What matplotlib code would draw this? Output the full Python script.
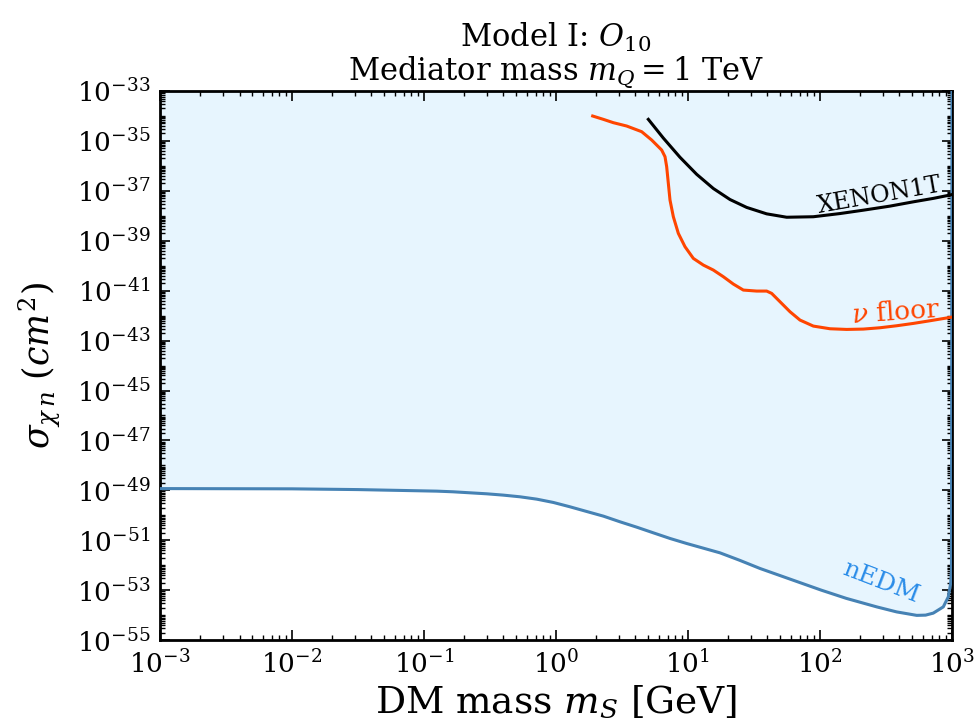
import numpy as np
import matplotlib
matplotlib.use("Agg")
import matplotlib.pyplot as plt
from matplotlib.ticker import LogLocator, NullFormatter

plt.rcParams['font.family'] = ['DejaVu Serif']
plt.rcParams['mathtext.fontset'] = 'dejavuserif'

# values, stored as log10 (mass in GeV, cross section in cm^2)

# nEDM bound (lower edge of the shaded region)
nedm_log_m = [-3.0, -2.0, -1.5, -1.030, -0.904, -0.778, -0.652, -0.525, -0.399, -0.273,
              -0.146, -0.020, 0.106, 0.232, 0.359, 0.485, 0.611, 0.737, 0.864, 0.990,
              1.116, 1.242, 1.39, 1.545, 1.78, 2.01, 2.2, 2.43, 2.58, 2.733, 2.80,
              2.858, 2.934, 2.972, 2.990, 2.996, 3.0]
nedm_log_s = [-48.93, -48.94, -48.97, -49.019, -49.032, -49.059, -49.099, -49.139, -49.192,
              -49.259, -49.353, -49.486, -49.660, -49.847, -50.034, -50.261, -50.475,
              -50.702, -50.929, -51.130, -51.317, -51.504, -51.80, -52.13, -52.57, -53.0,
              -53.33, -53.67, -53.87, -54.01, -54.0, -53.92, -53.67, -53.27, -52.73,
              -52.2, -33.0]

# XENON1T limit
xenon_log_m = [0.6995, 0.8131, 0.9394, 1.0657, 1.1919, 1.3182, 1.4444, 1.5960, 1.7475,
               1.9495, 2.1515, 2.3283, 2.5303, 2.7071, 2.8586, 2.9848, 3.0]
xenon_log_s = [-34.136, -34.886, -35.656, -36.338, -36.906, -37.348, -37.664, -37.922,
               -38.058, -38.038, -37.910, -37.775, -37.612, -37.440, -37.302, -37.168,
               -37.15]

# neutrino floor
nu_log_m = [0.2778, 0.3586, 0.4343, 0.5354, 0.6490, 0.7248, 0.8005, 0.8258, 0.8384,
            0.8510, 0.8636, 0.8889, 0.9268, 0.9773, 1.0404, 1.1162, 1.1919, 1.2677,
            1.3434, 1.4192, 1.5202, 1.5960, 1.6338, 1.6970, 1.7727, 1.8485, 1.9495,
            2.0758, 2.2020, 2.3283, 2.4545, 2.5808, 2.7071, 2.8333, 2.9848, 3.0]
nu_log_s = [-34.002, -34.136, -34.269, -34.403, -34.630, -34.964, -35.365, -35.632,
            -36.033, -36.701, -37.369, -38.037, -38.705, -39.239, -39.707, -39.974,
            -40.174, -40.441, -40.735, -40.976, -41.016, -41.016, -41.109, -41.443,
            -41.844, -42.178, -42.419, -42.526, -42.553, -42.539, -42.486, -42.406,
            -42.312, -42.205, -42.072, -42.06]

xmin, xmax = 1e-3, 1e3
ymin, ymax = 1e-55, 1e-33

nedm_m = 10.0 ** np.array(nedm_log_m)
nedm_s = 10.0 ** np.array(nedm_log_s)
xenon_m = 10.0 ** np.array(xenon_log_m)
xenon_s = 10.0 ** np.array(xenon_log_s)
nu_m = 10.0 ** np.array(nu_log_m)
nu_s = 10.0 ** np.array(nu_log_s)

fig = plt.figure(figsize=(9.77, 7.2), dpi=100)
ax = fig.add_axes([0.1638, 0.111, 0.8106, 0.7626])

ax.fill_between(nedm_m, nedm_s, ymax, color='#e7f5fe', zorder=1)
ax.plot(nedm_m, nedm_s, color='#4682b4', lw=2.2, zorder=3, solid_joinstyle='round')
ax.plot(xenon_m, xenon_s, color='black', lw=2.2, zorder=3, solid_joinstyle='round')
ax.plot(nu_m, nu_s, color='#ff4500', lw=2.2, zorder=3, solid_joinstyle='round')

ax.set_xscale('log')
ax.set_yscale('log')
ax.set_xlim(xmin, xmax)
ax.set_ylim(ymin, ymax)

ax.xaxis.set_major_locator(LogLocator(base=10, numticks=20))
ax.xaxis.set_minor_locator(LogLocator(base=10, subs=np.arange(2, 10), numticks=100))
ax.set_yticks([10.0 ** e for e in range(-55, -32, 2)])
ax.yaxis.set_minor_locator(LogLocator(base=10, subs=np.arange(1, 10), numticks=100))
ax.xaxis.set_minor_formatter(NullFormatter())
ax.yaxis.set_minor_formatter(NullFormatter())

ax.tick_params(which='both', direction='in', top=True, right=True)
ax.tick_params(which='major', length=7, width=1.2, labelsize=19, pad=7)
ax.tick_params(which='minor', length=3.5, width=1.0)
for s in ax.spines.values():
    s.set_linewidth(2)

ax.text(285, 6.3e-38, 'XENON1T', fontsize=17, color='black', rotation=10,
        ha='center', va='center', zorder=4)
ax.text(372, 1.35e-42, r'$\nu$ floor', fontsize=19, color='#ff4500', rotation=4,
        ha='center', va='center', zorder=4)
ax.text(290, 2.0e-53, 'nEDM', fontsize=18, color='#2a8ce8', rotation=-21,
        ha='center', va='center', zorder=4)

ax.set_title('Model I: $O_{10}$\nMediator mass $m_Q = 1$ TeV',
             fontsize=22, pad=8, linespacing=1.0)
ax.set_xlabel('DM mass $m_S$ [GeV]', fontsize=27, labelpad=4)
ax.set_ylabel(r'$\sigma_{\chi\, n}$ $(cm^2)$', fontsize=25, labelpad=10)

fig.savefig('out.png', dpi=100)
